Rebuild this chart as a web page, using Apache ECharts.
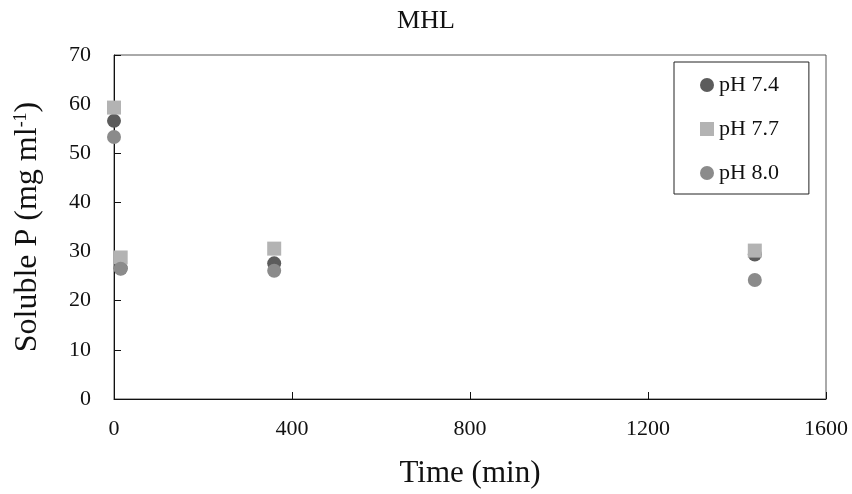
<!DOCTYPE html>
<html>
<head>
<meta charset="utf-8">
<script src="https://cdn.jsdelivr.net/npm/echarts@6/dist/echarts.min.js"></script>
<style>html,body{margin:0;padding:0;background:#fff}#c{width:852px;height:494px}</style>
</head>
<body>
<div id="c"></div>
<script>
var times = [0, 15, 360, 1440];
var ph74 = [56.6, 26.6, 27.6, 29.4];
var ph77 = [59.3, 28.8, 30.6, 30.2];
var ph80 = [53.3, 26.5, 26.1, 24.2];
var xTicks = [0, 400, 800, 1200, 1600];
var seriesNames = ['pH 7.4', 'pH 7.7', 'pH 8.0'];

function pairs(vals) { return times.map(function (t, i) { return [t, vals[i]]; }); }

var serif = 'Liberation Serif';
var chart = echarts.init(document.getElementById('c'));
chart.setOption({
  animation: false,
  title: {
    text: 'MHL', left: 'center', top: 3,
    textStyle: { fontFamily: serif, fontSize: 26, fontWeight: 'normal', color: '#111' }
  },
  grid: { left: 114, right: 26, top: 55, bottom: 90, show: true, borderColor: '#555', borderWidth: 1 },
  legend: {
    orient: 'vertical', left: 674, top: 62,
    padding: [12, 30, 10, 26], itemGap: 22, itemWidth: 14, itemHeight: 14,
    borderColor: '#222', borderWidth: 1,
    textStyle: { fontFamily: serif, fontSize: 22, lineHeight: 22, color: '#111' },
    data: [
      { name: seriesNames[0], icon: 'circle' },
      { name: seriesNames[1], icon: 'rect' },
      { name: seriesNames[2], icon: 'circle' }
    ]
  },
  xAxis: {
    type: 'value', min: 0, max: 1600, interval: 400,
    name: 'Time (min)', nameLocation: 'middle', nameGap: 59,
    nameTextStyle: { fontFamily: serif, fontSize: 31, color: '#111' },
    axisLine: { lineStyle: { color: '#111' } },
    axisTick: { inside: true, length: 7, lineStyle: { color: '#111' } },
    axisLabel: { margin: 19, fontFamily: serif, fontSize: 22, color: '#111',
      formatter: function (v) { return xTicks.indexOf(v) >= 0 ? String(v) : ''; } },
    splitLine: { show: false }
  },
  yAxis: {
    type: 'value', min: 0, max: 70, interval: 10,
    name: 'Soluble P (mg ml{sup|-1})', nameLocation: 'middle', nameGap: 70, nameRotate: 90,
    nameTextStyle: { fontFamily: serif, fontSize: 32, color: '#111',
      rich: { sup: { fontFamily: serif, fontSize: 18, verticalAlign: 'top', padding: [0, 0, 12, 0], color: '#111' } } },
    axisLine: { show: true, lineStyle: { color: '#111' } },
    axisTick: { show: true, inside: true, length: 7, lineStyle: { color: '#111' } },
    axisLabel: { margin: 23, fontFamily: serif, fontSize: 22, color: '#111' },
    splitLine: { show: false }
  },
  series: [
    { name: seriesNames[0], type: 'scatter', symbol: 'circle', symbolSize: 14, itemStyle: { color: '#5c5c5c', opacity: 1 }, data: pairs(ph74) },
    { name: seriesNames[1], type: 'scatter', symbol: 'rect', symbolSize: 14, itemStyle: { color: '#b3b3b3', opacity: 1 }, data: pairs(ph77) },
    { name: seriesNames[2], type: 'scatter', symbol: 'circle', symbolSize: 14, itemStyle: { color: '#8b8b8b', opacity: 1 }, data: pairs(ph80) }
  ]
});
</script>
</body>
</html>
